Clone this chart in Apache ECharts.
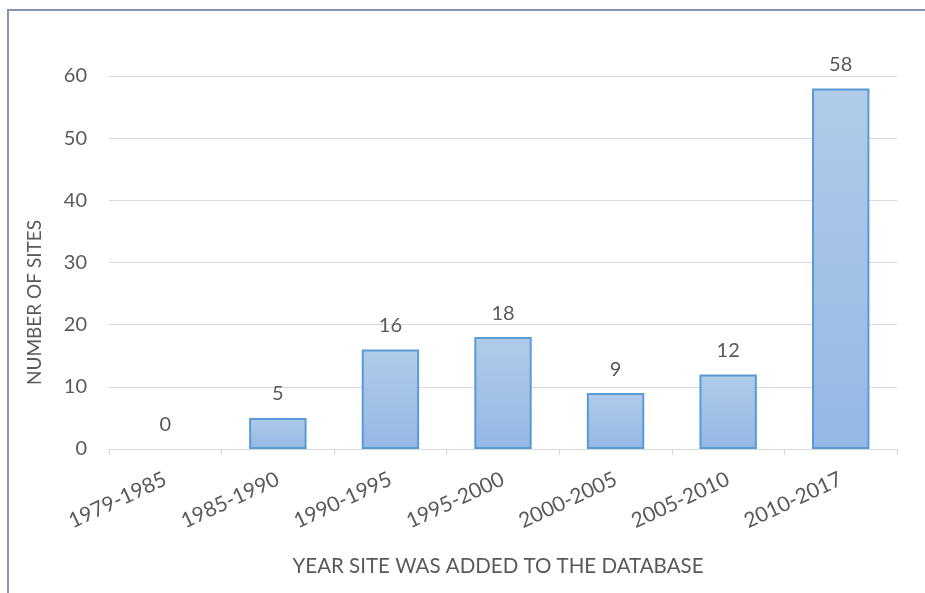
<!DOCTYPE html>
<html>
<head>
<meta charset="utf-8">
<script src="https://cdn.jsdelivr.net/npm/echarts@6/dist/echarts.min.js"></script>
<style>
    html, body { margin: 0; padding: 0; background: #fff; }
    #frame { position: absolute; left: 7px; top: 9px; width: 925px; height: 600px; border: 2px solid #8497b0; box-sizing: border-box; }
    #main { position: absolute; left: 0; top: 0; width: 925px; height: 593px; }
</style>
</head>
<body>
<div id="frame"></div>
<div id="main"></div>
<script>
const periods = ['1979-1985', '1985-1990', '1990-1995', '1995-2000', '2000-2005', '2005-2010', '2010-2017'];
const siteCounts = [0, 5, 16, 18, 9, 12, 58];
const yTicks = [0, 10, 20, 30, 40, 50, 60];

const fontFam = 'Lato, "Open Sans", sans-serif';
const textColor = '#595959';

let chart = echarts.init(document.getElementById('main'));

// no outline on empty bars
let barData = siteCounts.map(v => v === 0 ? { value: v, itemStyle: { borderWidth: 0 } } : v);

let option = {
    animation: false,
    grid: {
        left: 109,
        right: 28,
        top: 76,
        bottom: 144
    },
    xAxis: {
        type: 'category',
        data: periods,
        name: 'YEAR SITE WAS ADDED TO THE DATABASE',
        nameLocation: 'middle',
        nameGap: 107,
        nameTextStyle: { color: textColor, fontFamily: fontFam, fontSize: 20.5, padding: [0, 10, 0, 0] },
        axisLine: { lineStyle: { color: '#d9d9d9', width: 1 } },
        axisTick: { show: true, length: 6, lineStyle: { color: '#d9d9d9' } },
        axisLabel: {
            rotate: 25,
            color: textColor,
            fontFamily: fontFam,
            fontSize: 21,
            margin: 29
        }
    },
    yAxis: {
        type: 'value',
        min: yTicks[0],
        max: yTicks[yTicks.length - 1],
        interval: 10,
        name: 'NUMBER OF SITES',
        nameLocation: 'middle',
        nameGap: 65,
        // shifted down: the name sits lower than the axis middle
        nameTextStyle: { color: textColor, fontFamily: fontFam, fontSize: 19, padding: [0, 80, 0, 0] },
        axisLine: { show: false },
        axisTick: { show: false },
        axisLabel: { color: textColor, fontFamily: fontFam, fontSize: 20, margin: 22 },
        splitLine: { lineStyle: { color: '#d9d9d9', width: 1 } }
    },
    series: [
        {
            type: 'bar',
            data: barData,
            barCategoryGap: '49%',
            itemStyle: {
                color: new echarts.graphic.LinearGradient(0, 0, 0, 1, [
                    { offset: 0, color: '#b1cbe9' },
                    { offset: 1, color: '#94b8e4' }
                ]),
                borderColor: '#5b9bd5',
                borderWidth: 2
            },
            label: {
                show: true,
                position: 'top',
                distance: 14,
                color: textColor,
                fontFamily: fontFam,
                fontSize: 20
            }
        }
    ]
};

chart.setOption(option);
</script>
</body>
</html>
